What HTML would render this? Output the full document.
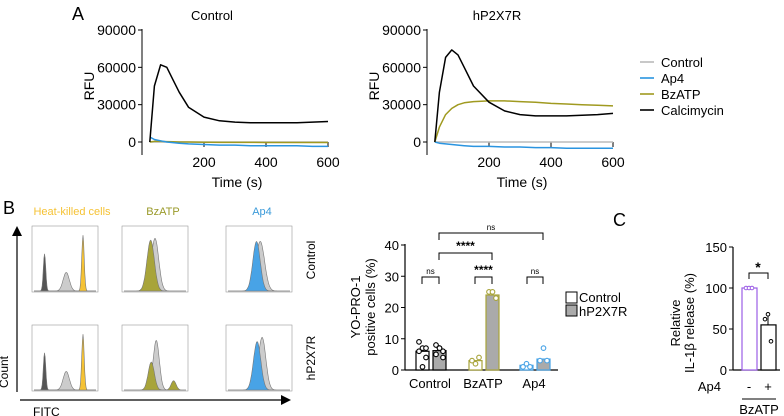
<!DOCTYPE html>
<html><head><meta charset="utf-8"><style>
body{margin:0;background:#fff}
svg{display:block;font-family:"Liberation Sans",Arial,sans-serif}
</style></head><body>
<svg id="fig" width="784" height="416" viewBox="0 0 784 416"></svg>
<script>
// ---------- Panel A data ----------
const times=[25,40,60,80,100,120,150,200,250,300,350,400,450,500,550,600];
const ctlCalci=[0,45000,62000,60000,50000,40000,28000,20000,17000,16000,15500,15500,15500,15500,16000,16500];
const ctlBz=[0,500,500,300,200,0,0,-200,-300,-300,-300,-400,-400,-400,-400,-400];
const ctlAp4=[4000,2000,1000,0,-500,-1000,-1500,-2000,-2500,-2500,-3000,-3000,-3000,-3000,-3500,-3500];
const ctlCtl=[0,0,0,0,0,0,0,0,0,0,0,0,0,0,0,0];
const p2Calci=[0,40000,68000,74000,70000,60000,45000,32000,25000,22000,21000,21000,21000,21500,22000,23000];
const p2Bz=[0,12000,22000,27000,30000,31500,32500,33000,33000,32500,32000,31000,30500,30000,29500,29000];
const p2Ap4=[0,-1000,-1500,-2000,-2500,-3000,-3500,-3500,-4000,-4000,-4500,-4500,-5000,-5000,-5000,-5000];
const p2Ctl=[0,0,0,0,0,0,0,0,0,0,0,0,0,0,0,0];
const rfuTicks=[0,30000,60000,90000];
const timeTicks=[200,400,600];
// ---------- Panel B bar data ----------
const barCats=["Control","BzATP","Ap4"];
const ctlVals=[6,3,1.5];
const p2Vals=[6.2,24,3.5];
const ctlPts=[[9,7,4,6,1,7],[3,2,4],[1,2,1]];
const p2Pts=[[8,7,6,5,7,4],[25,25,23],[3,7,3]];
const barTicks=[0,10,20,30,40];
// ---------- Panel C data ----------
const cCats=["-","+"];
const cVals=[100,55];
const cPts=[[100,100,100],[62,68,35]];
const cTicks=[0,50,100,150];

const S=document.getElementById('fig');const NS="http://www.w3.org/2000/svg";
function el(t,a,p){const e=document.createElementNS(NS,t);for(const k in a)e.setAttribute(k,a[k]);(p||S).appendChild(e);return e;}
function tx(x,y,s,a,p){const e=el('text',Object.assign({x:x,y:y},a),p);e.textContent=s;return e;}

// Panel A
function lineChart(ax0,title,series,name){
  const g=el('g',{});
  
  const xs=t=>ax0+t*0.31, ys=v=>142-v*112/90000;
  el('line',{x1:ax0,y1:29,x2:ax0,y2:155,stroke:'#000','stroke-width':1},g);
  rfuTicks.forEach(v=>{el('line',{x1:ax0-4,y1:ys(v),x2:ax0,y2:ys(v),stroke:'#000'},g);
    const l=tx(ax0-6,ys(v)+5,String(v),{'font-size':14,'text-anchor':'end'},g);});
  timeTicks.forEach(v=>{el('line',{x1:xs(v),y1:142,x2:xs(v),y2:147,stroke:'#000'},g);
    const l=tx(xs(v),167,String(v),{'font-size':14,'text-anchor':'middle'},g);});
  const tt=tx(ax0+70,20,title,{'font-size':13,'text-anchor':'middle'},g);
  const xl=tx(ax0+95,187,'Time (s)',{'font-size':14,'text-anchor':'middle'},g);
  const yl=tx(0,0,'RFU',{'font-size':14,'text-anchor':'middle',transform:`translate(${ax0-48},86) rotate(-90)`},g);
  series.forEach(s=>{const d=s.v.map((v,i)=>(i?'L':'M')+xs(times[i]).toFixed(1)+' '+ys(v).toFixed(1)).join(' ');
    const p=el('path',{d:d,fill:'none',stroke:s.c,'stroke-width':1.5,'stroke-linejoin':'round'},g);});
}
const A=tx(72,20,'A',{'font-size':18});
lineChart(142,'Control',[{v:ctlCtl,c:'#bbb',n:'control-line'},{v:ctlBz,c:'#a09a20',n:'bzatp-line'},{v:ctlAp4,c:'#2a94e0',n:'ap4-line'},{v:ctlCalci,c:'#000',n:'calcimycin-line'}],'control-rfu-chart');
lineChart(427,'hP2X7R',[{v:p2Ctl,c:'#bbb',n:'control-line'},{v:p2Ap4,c:'#2a94e0',n:'ap4-line'},{v:p2Bz,c:'#a09a20',n:'bzatp-line'},{v:p2Calci,c:'#000',n:'calcimycin-line'}],'hp2x7r-rfu-chart');
[['Control','#bbb'],['Ap4','#2a94e0'],['BzATP','#a09a20'],['Calcimycin','#000']].forEach((r,i)=>{
  const g=el('g',{});
  el('line',{x1:640,y1:62+i*16,x2:654,y2:62+i*16,stroke:r[1],'stroke-width':1.6},g);
  tx(661,67+i*16,r[0],{'font-size':13},g);});

// Panel B histograms
const B=tx(3,214,'B',{'font-size':18});
[['Heat-killed cells',72,'#f5c234'],['BzATP',163,'#9a9a2a'],['Ap4',262,'#3a9ad9']].forEach(t=>{const e=tx(t[1],215,t[0],{'font-size':11,'text-anchor':'middle',fill:t[2]});});
function gauss(x0,y0,w,h,peaks,fill,stroke){let d=`M${x0} ${y0+h}`;for(let i=0;i<=100;i++){const x=i/100;let v=0;peaks.forEach(p=>v+=p[2]*Math.exp(-Math.pow((x-p[0])/p[1],2)/2));d+=` L${(x0+x*w).toFixed(1)} ${(y0+h-v*h).toFixed(1)}`;}d+=` L${x0+w} ${y0+h} Z`;return {d:d,fill:fill,stroke:stroke,'stroke-width':0.6};}
const boxes=[[32,226],[122,226],[226,226],[32,325],[122,325],[226,325]];
boxes.forEach((b,i)=>{const g=el('g',{});
  el('rect',{x:b[0],y:b[1],width:66,height:66,fill:'none',stroke:'#999','stroke-width':0.6},g);
  const col=[0,1,2,0,1,2][i],row=i<3?0:1;
  let sets;
  if(col==0) sets=[[[[0.17,0.02,0.6]],'#555'],[[[0.52,0.05,0.3]],'#ccc'],[[[0.79,0.02,0.9]],'#f5c234']];
  else if(col==1) sets=row==0?[[[[0.5,0.06,0.85]],'#ccc'],[[[0.43,0.06,0.82]],'#a8a43a']]:[[[[0.52,0.05,0.8]],'#ccc'],[[[0.44,0.05,0.45],[0.8,0.04,0.15]],'#a8a43a']];
  else sets=row==0?[[[[0.52,0.07,0.8]],'#ccc'],[[[0.46,0.06,0.8]],'#48a3e6']]:[[[[0.55,0.06,0.85]],'#ccc'],[[[0.47,0.06,0.78]],'#48a3e6']];
  sets.forEach(s=>el('path',gauss(b[0]+2,b[1]+3,62,62,s[0],s[1],'#777'),g));});
const rc=tx(0,0,'Control',{'font-size':12,'text-anchor':'middle',transform:'translate(315,260) rotate(-90)'});
const rh=tx(0,0,'hP2X7R',{'font-size':12,'text-anchor':'middle',transform:'translate(315,358) rotate(-90)'});
el('line',{x1:17,y1:392,x2:17,y2:234,stroke:'#000','stroke-width':1.2});el('path',{d:'M12 236 L17 226 L22 236 Z',fill:'#000'});
el('line',{x1:20,y1:400,x2:283,y2:400,stroke:'#000','stroke-width':1.2});el('path',{d:'M281 395 L291 400 L281 405 Z',fill:'#000'});
const ct=tx(0,0,'Count',{'font-size':12,'text-anchor':'middle',transform:'translate(8,372) rotate(-90)'});
const fi=tx(33,416,'FITC',{'font-size':12});

// Panel B bar chart
{const by=v=>370-v*3.125;const cx=[430,483,534];
 const g=el('g',{});
 el('line',{x1:405,y1:244,x2:405,y2:370,stroke:'#000','stroke-width':1.2},g);el('line',{x1:405,y1:370,x2:558,y2:370,stroke:'#000','stroke-width':1.2},g);
 barTicks.forEach(v=>{el('line',{x1:401,y1:by(v),x2:405,y2:by(v),stroke:'#000'},g);tx(399,by(v)+5,String(v),{'font-size':13,'text-anchor':'end'},g);});
 barCats.forEach((c,i)=>{tx(cx[i],388,c,{'font-size':13,'text-anchor':'middle'},g);
   const col=['#000','#a8a43a','#48a3e6'][i];
   [[ctlVals,ctlPts,'#fff',-14],[p2Vals,p2Pts,'#aaa',3]].forEach(s=>{
     const r=el('rect',{x:cx[i]+s[3],y:by(s[0][i]),width:13,height:370-by(s[0][i]),fill:s[2],stroke:col,'stroke-width':1.2},g);
     
     s[1][i].forEach((p,j)=>el('circle',{cx:cx[i]+s[3]+3+(j%3)*3.5,cy:by(p),r:2.3,fill:'#fff',stroke:col,'stroke-width':1.1},g));});});
 tx(0,0,'YO-PRO-1',{'font-size':13,'text-anchor':'middle',transform:'translate(360,307) rotate(-90)'},g);
 tx(0,0,'positive cells (%)',{'font-size':13,'text-anchor':'middle',transform:'translate(375,307) rotate(-90)'},g);
 function br(x1,x2,y,lab,big){el('path',{d:`M${x1} ${y+7} L${x1} ${y} L${x2} ${y} L${x2} ${y+7}`,fill:'none',stroke:'#000','stroke-width':1},g);tx((x1+x2)/2,y-3,lab,{'font-size':big?12:8,'font-weight':big?'bold':'normal','text-anchor':'middle'},g);}
 br(422,439,277,'ns');br(475,492,277,'****',1);br(527,543,277,'ns');br(439,492,253,'****',1);br(439,543,233,'ns');
 el('rect',{x:566,y:292,width:11,height:11,fill:'#fff',stroke:'#000'},g);tx(579,302,'Control',{'font-size':13},g);
 el('rect',{x:566,y:305,width:11,height:11,fill:'#aaa',stroke:'#000'},g);tx(579,316,'hP2X7R',{'font-size':13},g);}

// Panel C
{const C=tx(613,226,'C',{'font-size':18});
 const cy=v=>370-v*0.82;const cx=[749,768];
 const g=el('g',{});
 el('line',{x1:733,y1:247,x2:733,y2:370,stroke:'#000','stroke-width':1.2},g);el('line',{x1:733,y1:370,x2:780,y2:370,stroke:'#000','stroke-width':1.2},g);
 cTicks.forEach(v=>{el('line',{x1:729,y1:cy(v),x2:733,y2:cy(v),stroke:'#000'},g);tx(727,cy(v)+5,String(v),{'font-size':13,'text-anchor':'end'},g);});
 cCats.forEach((c,i)=>{const col=i?'#000':'#9b5de5';
   const r=el('rect',{x:cx[i]-7,y:cy(cVals[i]),width:15,height:370-cy(cVals[i]),fill:'#fff',stroke:col,'stroke-width':1.2},g);
   
   cPts[i].forEach((p,j)=>el('circle',{cx:cx[i]-3+j*3,cy:cy(p),r:1.8,fill:'#fff',stroke:col},g));
   tx(cx[i],391,c,{'font-size':13,'text-anchor':'middle'},g);});
 el('line',{x1:768,y1:cy(55),x2:768,y2:cy(66),stroke:'#000'},g);
 tx(721,391,'Ap4',{'font-size':13,'text-anchor':'end'},g);
 el('line',{x1:742,y1:399,x2:776,y2:399,stroke:'#000'},g);tx(759,414,'BzATP',{'font-size':13,'text-anchor':'middle'},g);
 el('path',{d:'M749 279 L749 273 L768 273 L768 279',fill:'none',stroke:'#000'},g);tx(758,272,'*',{'font-size':14,'font-weight':'bold','text-anchor':'middle'},g);
 tx(0,0,'Relative',{'font-size':13,'text-anchor':'middle',transform:'translate(680,323) rotate(-90)'},g);
 tx(0,0,'IL-1β release (%)',{'font-size':13,'text-anchor':'middle',transform:'translate(694,323) rotate(-90)'},g);}
</script>
</body></html>
